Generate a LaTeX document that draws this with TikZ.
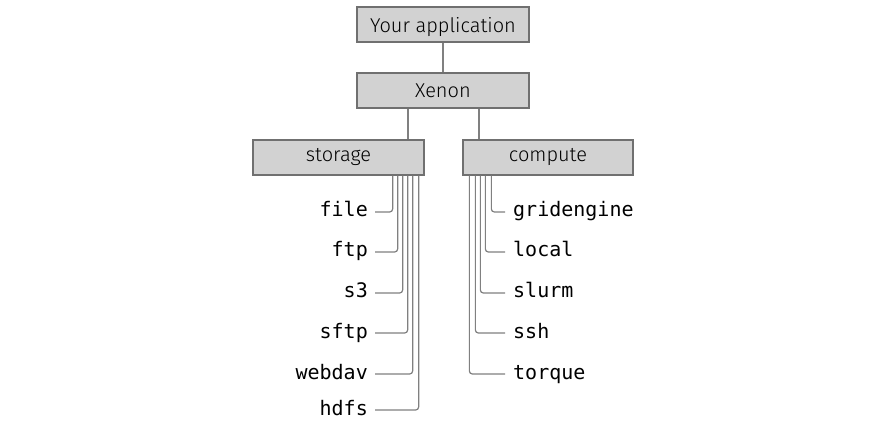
\documentclass[tikz,border=0pt]{standalone}
\usepackage{fontspec}
\newfontfamily\boxfont{Fira Sans Light}
\newfontfamily\leaffont{DejaVu Sans Mono}
\definecolor{boxfill}{HTML}{D2D2D2}
\definecolor{boxline}{HTML}{707070}
\definecolor{connline}{HTML}{808080}
\begin{document}
\begin{tikzpicture}[x=1pt,y=-1pt,
  blk/.style={draw=boxline, fill=boxfill, line width=1.3pt, minimum height=35pt, inner sep=0pt, font=\boxfont\fontsize{20}{24}\selectfont},
  leaf/.style={inner sep=0pt, font=\leaffont\fontsize{20}{24}\selectfont},
  conn/.style={draw=connline, line width=1.2pt, rounded corners=3pt}]
\useasboundingbox (0,0) rectangle (888,427);
\node[blk, minimum width=172pt, text depth=0pt] (app) at (443,24.5) {Your application};
\node[blk, minimum width=172pt] (xenon) at (443,90.5) {Xenon};
\node[blk, minimum width=171pt] (storage) at (338.5,157.5) {storage};
\node[blk, minimum width=170pt] (compute) at (548,157.5) {compute};
\draw[conn] (app.south) -- (xenon.north);
\draw[conn] ([xshift=-35pt]xenon.south) -- ([xshift=-35pt]xenon.south |- storage.north);
\draw[conn] ([xshift=36pt]xenon.south) -- ([xshift=36pt]xenon.south |- compute.north);
% storage leaves
\node[leaf, anchor=base east] (file) at (368,217) {file};
\node[leaf, anchor=base east] (ftp) at (368,257) {ftp};
\node[leaf, anchor=base east] (s3) at (368,298) {s3};
\node[leaf, anchor=base east] (sftp) at (368,338) {sftp};
\node[leaf, anchor=base east] (webdav) at (368,379) {webdav};
\node[leaf, anchor=base east] (hdfs) at (368,415) {hdfs};
\draw[conn] (file.base east) ++(7,-5) -| ([xshift=-32pt]storage.south east);
\draw[conn] (ftp.base east) ++(7,-5) -| ([xshift=-27pt]storage.south east);
\draw[conn] (s3.base east) ++(7,-5) -| ([xshift=-22pt]storage.south east);
\draw[conn] (sftp.base east) ++(7,-5) -| ([xshift=-17pt]storage.south east);
\draw[conn] (webdav.base east) ++(7,-5) -| ([xshift=-12pt]storage.south east);
\draw[conn] (hdfs.base east) ++(7,-5) -| ([xshift=-6pt]storage.south east);
% compute leaves
\node[leaf, anchor=base west] (gridengine) at (513,217) {gridengine};
\node[leaf, anchor=base west] (local) at (513,257) {local};
\node[leaf, anchor=base west] (slurm) at (513,298) {slurm};
\node[leaf, anchor=base west] (ssh) at (513,338) {ssh};
\node[leaf, anchor=base west] (torque) at (513,379) {torque};
\draw[conn] (gridengine.base west) ++(-8,-5) -| ([xshift=29pt]compute.south west);
\draw[conn] (local.base west) ++(-8,-5) -| ([xshift=23pt]compute.south west);
\draw[conn] (slurm.base west) ++(-8,-5) -| ([xshift=18pt]compute.south west);
\draw[conn] (ssh.base west) ++(-8,-5) -| ([xshift=13pt]compute.south west);
\draw[conn] (torque.base west) ++(-8,-5) -| ([xshift=7pt]compute.south west);
\end{tikzpicture}
\end{document}
